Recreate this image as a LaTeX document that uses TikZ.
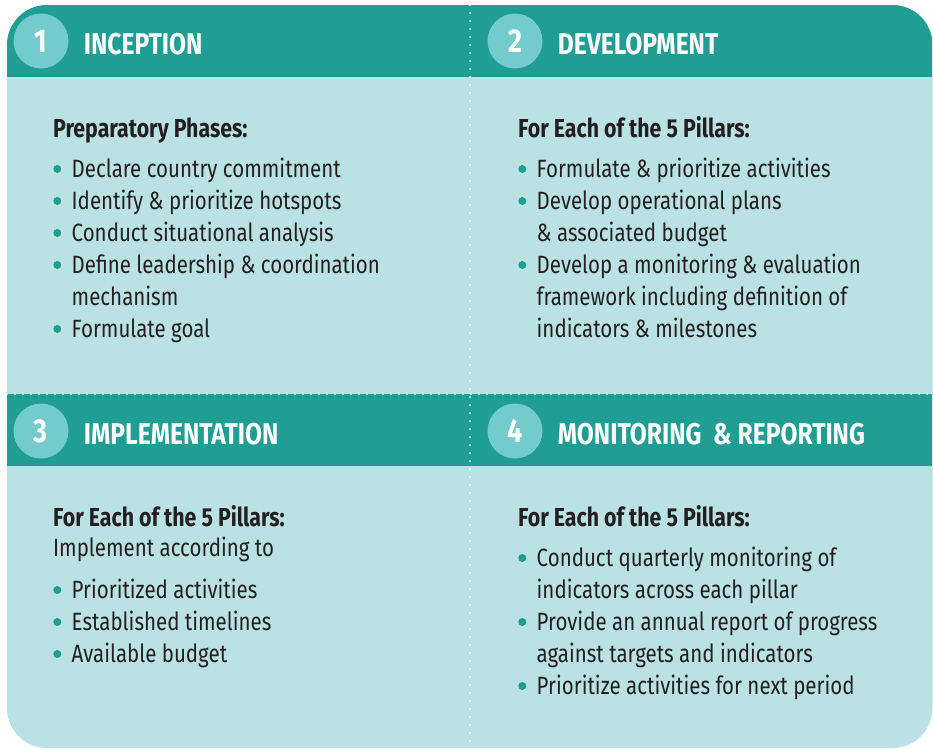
\documentclass[tikz,border=0pt]{standalone}
\usepackage{fontspec}
\setmainfont{Fira Sans}[FakeStretch=0.82]
\usepackage{tikz}
\usetikzlibrary{positioning}
\definecolor{HEAD}{HTML}{219E93}
\definecolor{BODY}{HTML}{BAE2E4}
\definecolor{NUM}{HTML}{74CBCB}
\definecolor{INK}{HTML}{231F20}
\tikzset{
  NUM/.style={% numbered disc in the header band
      circle, fill=NUM,
      minimum size=55pt, inner sep=0pt,
      text=white,
      font=\fontsize{33}{33}\selectfont\bfseries
  },
  TITLE/.style={% white caps next to the disc
      anchor=west, inner sep=0pt,
      text=white,
      yshift=-3pt,
      font=\fontsize{30}{30}\selectfont\bfseries
  },
  TXT/.style={% plain body line
      anchor=base west, inner sep=0pt,
      text=INK,
      font=\fontsize{25}{25}\selectfont
  },
  HD/.style={TXT, font=\fontsize{26}{26}\selectfont\bfseries},
  PL/.style={TXT},
  CO/.style={TXT, xshift=18.5pt},% continuation of a bullet
  DOT/.style={circle, fill=HEAD, inner sep=0pt, minimum size=8pt},
  BU/.style={CO,
      text height=20pt, text depth=4pt,
      label={[DOT, label distance=10pt]left:{}}
  },
  DOTS/.style={white, line width=2pt, line cap=round, dash pattern=on 0pt off 8pt}
}
\def\phase(#1)(#2)#3[#4]#5{%
  \begin{scope}[shift={(#1)}]
    \node[NUM] (n#3) at (0,0) {#3};
    \node[TITLE, right=15pt of n#3] (t#3) {#4};
  \end{scope}
  \begin{scope}[shift={(#2)}]
    \foreach \dy/\kind/\txt in {#5} {% one line of text per entry
      \node[\kind] at (0,\dy) {\txt};
    }
  \end{scope}
}

\begin{document}
\begin{tikzpicture}[x=1pt, y=-1pt]
  \useasboundingbox (0,0) rectangle (933,748);
  % card and header bands
  \fill[BODY, rounded corners=40pt] (7,5) rectangle (932.5,748);
  \begin{scope}
    \clip[rounded corners=40pt] (7,5) rectangle (932.5,748);
    \fill[HEAD] (7,5) rectangle (933,77);
    \fill[HEAD] (7,394) rectangle (933,466);
  \end{scope}
  \draw[DOTS] (470,5) -- (470,746);
  \draw[DOTS] (7,394) -- (932,394);

  \phase(41,41)(53,137){1}[INCEPTION]{
    0/HD/Preparatory Phases:,
    40/BU/Declare country commitment,
    72/BU/Identify \& prioritize hotspots,
    104/BU/Conduct situational analysis,
    136/BU/Define leadership \& coordination,
    168/CO/mechanism,
    200/BU/Formulate goal
  }
  \phase(515,41)(518,137){2}[DEVELOPMENT]{
    0/HD/For Each of the 5 Pillars:,
    40/BU/Formulate \& prioritize activities,
    72/BU/Develop operational plans,
    104/CO/\& associated budget,
    136/BU/Develop a monitoring \& evaluation,
    168/CO/framework including definition of,
    200/CO/indicators \& milestones
  }
  \phase(41,431)(53,526){3}[IMPLEMENTATION]{
    0/HD/For Each of the 5 Pillars:,
    30/PL/Implement according to,
    72/BU/Prioritized activities,
    104/BU/Established timelines,
    136/BU/Available budget
  }
  \phase(515,431)(518,526){4}[MONITORING\ \ \& REPORTING]{
    0/HD/For Each of the 5 Pillars:,
    40/BU/Conduct quarterly monitoring of,
    72/CO/indicators across each pillar,
    104/BU/Provide an annual report of progress,
    136/CO/against targets and indicators,
    168/BU/Prioritize activities for next period
  }
\end{tikzpicture}
\end{document}
